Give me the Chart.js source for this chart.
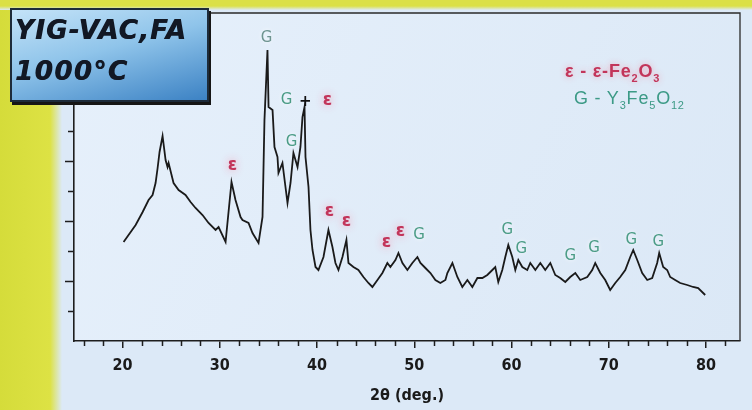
<!DOCTYPE html>
<html><head><meta charset="utf-8">
<script src="https://cdn.jsdelivr.net/npm/chart.js@4.4.0/dist/chart.umd.min.js"></script>
<style>
html,body{margin:0;padding:0;}
body{width:752px;height:410px;position:relative;overflow:hidden;background:#dce9f7;}
#yl{position:absolute;left:0;top:0;width:64px;height:410px;background:linear-gradient(to right,#d5dc3a 0,#dde244 50px,#dce9f7 62px);}
#yt{position:absolute;left:0;top:0;width:752px;height:10px;background:linear-gradient(to bottom,#dbe046 0,#dbe046 6px,#dce9f7 10px);}
#wrap{position:absolute;left:0;top:0;width:752px;height:410px;}
#tbox{position:absolute;left:10px;top:8px;width:195px;height:90px;background:linear-gradient(165deg,#c4e3f8 0%,#8fc4ea 45%,#3c82c4 100%);border:2px solid #1d2b3a;box-shadow:2px 3px 0 #161616;font-family:'DejaVu Sans',sans-serif;font-weight:bold;font-style:italic;color:#121824;}
#tbox .l1{position:absolute;left:3px;top:5px;font-size:26px;letter-spacing:1.2px;white-space:nowrap;text-shadow:0.6px 0 0 #121824;}
#tbox .l2{position:absolute;left:3px;top:46px;font-size:26px;letter-spacing:1.5px;white-space:nowrap;text-shadow:0.6px 0 0 #121824;}
.leg{position:absolute;font-family:'Liberation Sans',Arial,sans-serif;font-size:18px;white-space:nowrap;letter-spacing:0.8px;}
#leg1{left:565px;top:61px;color:#c2355a;font-weight:bold;text-shadow:0 0 6px rgba(240,160,180,0.9);}
#leg2{left:574px;top:88px;color:#3c9a86;}
.leg sub{font-size:11px;}
</style>
</head><body>
<div id="yl"></div><div id="yt"></div>
<div id="wrap"><canvas id="c" width="752" height="410"></canvas></div>
<div id="tbox"><div class="l1">YIG-VAC,FA</div><div class="l2">1000°C</div></div>
<div class="leg" id="leg1">ε - ε-Fe<sub>2</sub>O<sub>3</sub></div>
<div class="leg" id="leg2">G - Y<sub>3</sub>Fe<sub>5</sub>O<sub>12</sub></div>
<script>
// ---- data ----
const twoTheta = [20.10,21.34,22.06,22.67,23.08,23.39,23.60,23.80,24.11,24.42,24.62,24.73,25.24,25.76,26.47,26.99,27.50,28.22,28.84,29.56,29.87,30.59,31.20,31.61,32.13,32.33,32.95,33.36,33.98,34.39,34.59,34.90,35.01,35.42,35.62,35.93,36.03,36.44,36.96,37.27,37.57,37.99,38.29,38.50,38.71,38.81,39.12,39.32,39.53,39.84,40.14,40.66,41.17,41.58,41.89,42.20,42.61,43.02,43.23,43.74,44.25,44.77,45.28,45.69,46.21,46.72,47.23,47.54,48.06,48.37,48.78,49.29,49.80,50.32,50.63,51.14,51.66,52.17,52.68,53.20,53.40,53.92,54.43,54.94,55.46,55.97,56.49,57.00,57.51,58.03,58.33,58.64,59.05,59.36,59.67,60.08,60.39,60.70,61.11,61.62,61.93,62.45,62.96,63.47,63.99,64.50,65.01,65.53,66.04,66.56,67.07,67.79,68.30,68.61,69.13,69.64,70.15,70.67,71.18,71.70,72.21,72.52,72.93,73.44,73.96,74.47,74.98,75.19,75.60,76.01,76.32,76.83,77.35,78.07,78.68,79.20,79.71,79.92];
const intensity = [99,116,129,141,146,158,173,189,205,181,174,178,158,151,146,139,133,126,118,111,114,99,159,141,124,121,118,108,98,124,221,291,234,231,194,184,168,178,138,158,188,174,194,224,234,184,154,111,91,74,71,84,111,94,78,71,84,101,78,74,71,64,58,54,61,68,78,74,81,88,78,71,78,84,78,73,68,61,58,61,68,78,64,54,61,54,63,63,66,71,74,59,71,84,96,84,71,81,74,71,78,71,78,71,78,66,63,59,64,68,61,64,71,78,68,61,51,58,64,71,84,91,81,68,61,63,78,88,74,71,64,61,58,56,54,53,48,46];
const xTickLabels = [20,30,40,50,60,70,80];
const xMinorTicks = [16,18,22,24,26,28,32,34,36,38,42,44,46,48,52,54,56,58,62,64,66,68,72,74,76,78,82];
const yMajorTicks = [60,120,180,240,300];
const yMinorTicks = [30,90,150,210,270];
// phase markers (2θ, height)
const gPeakX = [34.8,36.85,37.37,50.5,59.57,61.0,66.04,68.5,72.31,75.1];
const gPeakY = [303,241,199,106,111,92,85,93,101,99];
const epsPeakX = [31.3,41.07,41.27,43.02,47.13,48.57];
const epsPeakY = [175,240,129,119,98,109];
const plusX = [38.8];
const plusY = [239];

const INK = '#1e1e1e';
const decor = {
  id:'decor',
  beforeDraw(chart){
    const {ctx, chartArea:a} = chart;
    ctx.save();
    const g = ctx.createLinearGradient(a.left,a.top,a.right,a.bottom);
    g.addColorStop(0,'#e6f0fb'); g.addColorStop(1,'#dbe8f6');
    ctx.fillStyle = g;
    ctx.fillRect(a.left,a.top,a.right-a.left,a.bottom-a.top);
    ctx.restore();
  },
  afterDraw(chart){
    const {ctx, chartArea:a, scales:{x,y}} = chart;
    ctx.save();
    ctx.strokeStyle = '#2a2a2a'; ctx.lineWidth = 1.3;
    ctx.beginPath();
    ctx.moveTo(a.left,a.top); ctx.lineTo(a.right,a.top); ctx.lineTo(a.right,a.bottom);
    ctx.stroke();
    ctx.strokeStyle = INK; ctx.lineWidth = 1.5;
    ctx.beginPath();
    xMinorTicks.forEach(v=>{const px=Math.round(x.getPixelForValue(v))+0.5; ctx.moveTo(px,a.bottom); ctx.lineTo(px,a.bottom+5);});
    yMajorTicks.forEach(v=>{const py=Math.round(y.getPixelForValue(v))+0.5; ctx.moveTo(a.left,py); ctx.lineTo(a.left-9,py);});
    yMinorTicks.forEach(v=>{const py=Math.round(y.getPixelForValue(v))+0.5; ctx.moveTo(a.left,py); ctx.lineTo(a.left-6,py);});
    ctx.stroke();
    ctx.restore();
  },
  afterDatasetsDraw(chart){
    const {ctx, scales:{x,y}} = chart;
    ctx.save();
    ctx.textAlign='center'; ctx.textBaseline='middle';
    ctx.font = '15px "DejaVu Sans", sans-serif';
    ctx.shadowColor='rgba(255,255,255,0.9)'; ctx.shadowBlur=4;
    gPeakX.forEach((v,i)=>{
      ctx.fillStyle = i===0 ? '#6e9490' : '#4b9c86';
      ctx.fillText('G', x.getPixelForValue(v), y.getPixelForValue(gPeakY[i]));
    });
    ctx.font = 'bold 17px "DejaVu Sans", sans-serif';
    ctx.shadowColor='rgba(245,150,175,0.9)'; ctx.shadowBlur=8;
    ctx.fillStyle = '#c2355a';
    epsPeakX.forEach((v,i)=>{
      ctx.fillText('ε', x.getPixelForValue(v), y.getPixelForValue(epsPeakY[i]));
    });
    ctx.shadowBlur=0;
    ctx.fillStyle = '#111';
    ctx.font = 'bold 15px "DejaVu Sans", sans-serif';
    plusX.forEach((v,i)=>ctx.fillText('+', x.getPixelForValue(v), y.getPixelForValue(plusY[i])));
    ctx.restore();
  }
};

const narrow = "'Liberation Sans Narrow','DejaVu Sans Condensed','Liberation Sans',sans-serif";
new Chart(document.getElementById('c'), {
  type:'line',
  data:{datasets:[{
    data: twoTheta.map((t,i)=>({x:t,y:intensity[i]})),
    borderColor:'#1a1a1a', borderWidth:1.8, pointRadius:0, tension:0, fill:false
  }]},
  options:{
    responsive:false, animation:false, devicePixelRatio:1,
    layout:{padding:{top:13,right:12,left:0,bottom:0}},
    plugins:{legend:{display:false},tooltip:{enabled:false}},
    scales:{
      x:{type:'linear',min:15,max:83.5,
        afterBuildTicks(s){ s.ticks = xTickLabels.map(v=>({value:v})); },
        afterFit(s){ s.height = 69; },
        grid:{display:true,drawOnChartArea:false,drawTicks:true,tickLength:7,color:INK,lineWidth:1.5},
        border:{display:true,color:INK,width:1.6},
        ticks:{color:'#1a1a1a',padding:8,font:{family:narrow,weight:'bold',size:16},maxRotation:0},
        title:{display:true,text:'2θ (deg.)',color:'#1a1a1a',font:{family:narrow,weight:'bold',size:16},padding:{top:0,bottom:5}}
      },
      y:{type:'linear',min:0,max:328,
        afterFit(s){ s.width = 74; },
        grid:{display:false},
        border:{display:true,color:INK,width:1.6},
        ticks:{display:false}
      }
    }
  },
  plugins:[decor]
});
</script>
</body></html>
